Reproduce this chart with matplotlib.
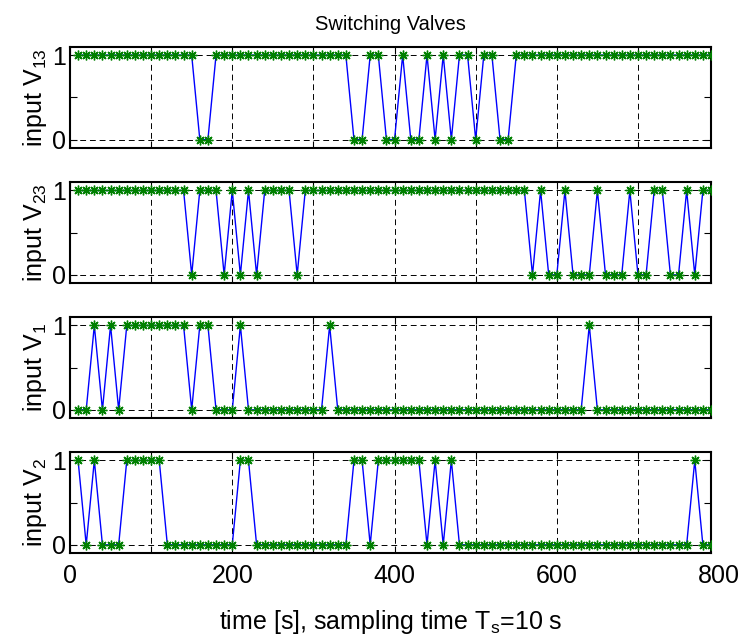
import matplotlib
matplotlib.use("Agg")
import matplotlib.pyplot as plt
from matplotlib.ticker import FixedLocator
import numpy as np

# ---- sampled valve states, Ts = 10 s, t = 10 ... 790 ----
t = np.arange(10, 800, 10)
v13 = [1]*15 + [0, 0] + [1]*17 + [0, 0, 1, 1, 0, 0, 1, 0, 0, 1, 0, 1, 0, 1, 1, 0, 1, 1, 0, 0] + [1]*25
v23 = [1]*14 + [0, 1, 1, 1, 0, 1, 0, 1, 0, 1, 1, 1, 1, 0] + [1]*28 + \
      [0, 1, 0, 0, 1, 0, 0, 0, 1, 0, 0, 0, 1, 0, 0, 1, 1, 0, 0, 1, 0, 1, 1]
v1 = [0, 0, 1, 0, 1, 0] + [1]*8 + [0, 1, 1, 0, 0, 0, 1] + [0]*10 + [1] + [0]*31 + [1] + [0]*15
v2 = [1, 0, 1, 0, 0, 0] + [1]*5 + [0]*9 + [1, 1] + [0]*12 + \
     [1, 1, 0] + [1]*6 + [0, 1, 0, 1] + [0]*29 + [1, 0, 0]

series = [v13, v23, v1, v2]
ylabels = [r"input V$_{13}$", r"input V$_{23}$", r"input V$_{1}$", r"input V$_{2}$"]
xticks = [0, 100, 200, 300, 400, 500, 600, 700]
xtick_labels = ["0", "", "200", "", "400", "", "600", ""]

plt.rcParams.update({
    "font.family": "Liberation Sans",
    "mathtext.fontset": "custom",
    "mathtext.rm": "Liberation Sans",
    "mathtext.it": "Liberation Sans",
})

fig = plt.figure(figsize=(7.39, 6.37), dpi=100)
left, width, height = 0.0947, 0.8674, 0.159
bottoms = [0.7677, 0.5552, 0.3433, 0.1314]

for i, (vals, lab) in enumerate(zip(series, ylabels)):
    ax = fig.add_axes([left, bottoms[i], width, height])
    ax.plot(t, vals, color="#0000ff", lw=1.0, zorder=3)
    ax.plot(t, vals, ls="none", marker=(8, 2, 0), color="#008000", ms=7,
            markeredgewidth=1.0, zorder=4)
    ax.set_xlim(0, 790)
    ax.set_ylim(-0.1, 1.1)

    ax.set_xticks(xticks)
    ax.set_yticks([0, 1])
    ax.yaxis.set_minor_locator(FixedLocator([0.5]))
    ax.grid(True, which="major", color="black", ls=(0, (6, 4)), lw=0.7)
    ax.tick_params(which="both", direction="in", top=True, right=True,
                   length=5, width=0.8, labelsize=18, pad=3)
    ax.set_yticklabels(["0", "1"])
    if i < 3:
        ax.set_xticklabels([])
    else:
        ax.set_xticklabels(xtick_labels)
        ax.tick_params(axis="x", pad=8)
        # the 800 label sits just past the data range
        ax.annotate("800", xy=(800, 0), xycoords=("data", "axes fraction"),
                    xytext=(0, -8), textcoords="offset points",
                    ha="center", va="top", fontsize=18, annotation_clip=False)
        ax.set_xlabel(r"time [s], sampling time T$_\mathrm{s}$=10 s", fontsize=18,
                      labelpad=14)
    for sp in ax.spines.values():
        sp.set_linewidth(1.5)
    ax.set_ylabel(lab, fontsize=18, labelpad=2)
    if i == 0:
        ax.set_title("Switching Valves", fontsize=14.5, pad=12)

fig.savefig("out.png", dpi=100, facecolor="white")
